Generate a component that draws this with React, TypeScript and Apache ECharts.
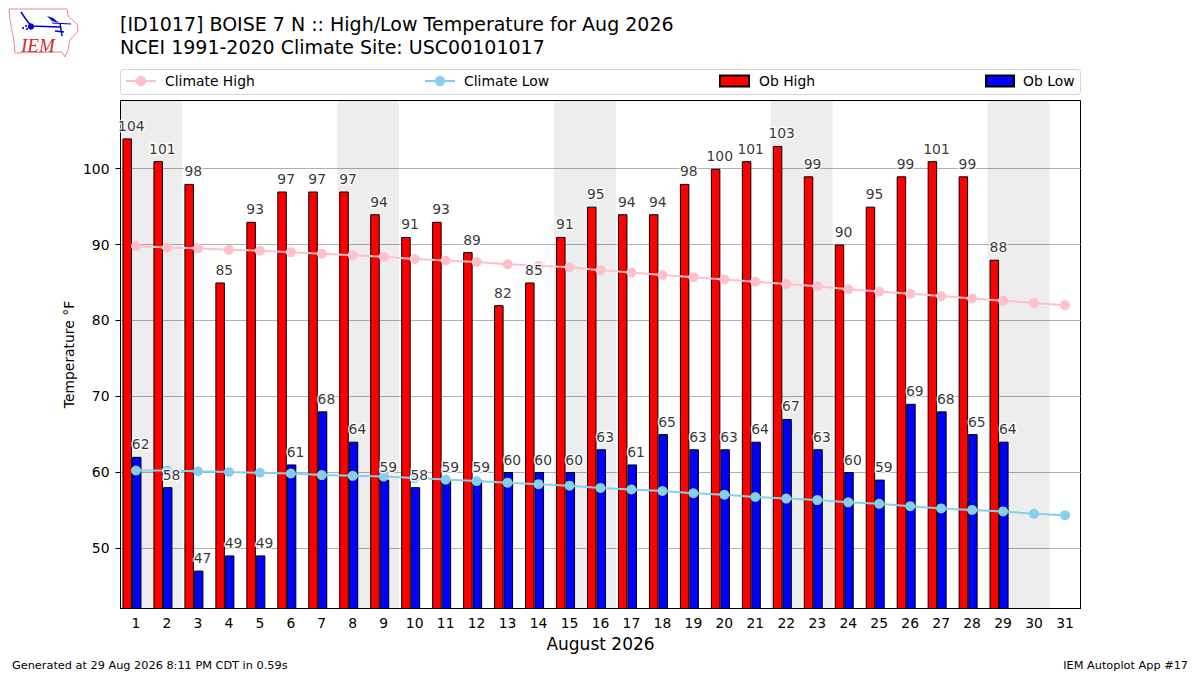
import React, { useEffect, useRef } from "react";
import * as echarts from "echarts";

const days = Array.from({ length: 31 }, (_, i) => String(i + 1));
const obHigh = [104,101,98,85,93,97,97,97,94,91,93,89,82,85,91,95,94,94,98,100,101,103,99,90,95,99,101,99,88,null,null];
const obLow = [62,58,47,49,49,61,68,64,59,58,59,59,60,60,60,63,61,65,63,63,64,67,63,60,59,69,68,65,64,null,null];
const climateHigh = [89.8,89.6,89.5,89.3,89.2,89.0,88.8,88.6,88.4,88.1,87.9,87.7,87.4,87.2,87.0,86.6,86.3,86.0,85.7,85.4,85.1,84.8,84.5,84.1,83.8,83.5,83.2,82.9,82.6,82.3,82.0];
const climateLow = [60.2,60.2,60.1,60.0,59.9,59.8,59.6,59.5,59.4,59.2,59.0,58.8,58.6,58.4,58.2,57.9,57.7,57.5,57.2,57.0,56.7,56.5,56.3,56.0,55.8,55.5,55.2,55.0,54.8,54.5,54.3];
const weekendDays = ["1","2","8","9","15","16","22","23","29","30"];
const yTicks = [50, 60, 70, 80, 90, 100];
const Y_MIN = 42;
const Y_MAX = 109;

const FONT = "DejaVu Sans";
const iowa = [[9,9],[67,9],[68,16],[77,24],[78,31],[70,40],[68,50],[65,57],[62,52],[15,53],[14,41],[10,20]];

export default function App() {
  const ref = useRef<HTMLDivElement>(null);
  useEffect(() => {
    const chart = echarts.init(ref.current!, null, { renderer: "svg" });
    const barBase = { type: "bar", barWidth: 9.5, barGap: 0, z: 3, itemStyle: { borderColor: "#000", borderWidth: 1 } };
    const labelSeries = (name: string, data: any[], dx: number) => ({
      name, type: "scatter", data, symbolSize: 1, z: 6, silent: true,
      itemStyle: { color: "transparent" },
      label: { show: true, position: "top", distance: 5, offset: [dx, 0], color: "#000", fontFamily: FONT, fontSize: 13.9, textBorderColor: "#fff", textBorderWidth: 3 },
    });
    const legendItem = (name: string, left: number, w: number, h: number, gap: number, top: number, icon?: string) => ({
      data: icon ? [{ name, icon }] : [name], left, top, itemWidth: w, itemHeight: h, itemGap: 0, padding: 0,
      textStyle: { fontFamily: FONT, fontSize: 13.9, color: "#000", padding: [0, 0, 0, gap] },
    });
    chart.setOption({
      animation: false,
      backgroundColor: "#fff",
      textStyle: { fontFamily: FONT },
      title: [
        { text: "[ID1017] BOISE 7 N :: High/Low Temperature for Aug 2026\nNCEI 1991-2020 Climate Site: USC00101017", left: 115, top: 7,
          textStyle: { fontFamily: FONT, fontSize: 19, fontWeight: "normal", color: "#000", lineHeight: 23 } },
        { text: "Generated at 29 Aug 2026 8:11 PM CDT in 0.59s", left: 7, top: 655, textStyle: { fontFamily: FONT, fontSize: 11.3, fontWeight: "normal", color: "#000" } },
        { text: "IEM Autoplot App #17", right: 7, top: 655, textStyle: { fontFamily: FONT, fontSize: 11.3, fontWeight: "normal", color: "#000" } },
      ],
      legend: [
        legendItem("Climate High", 125, 30, 13, 4, 74),
        legendItem("Climate Low", 424, 30, 13, 4, 74),
        legendItem("Ob High", 719, 29, 11, 5, 74, "rect"),
        legendItem("Ob Low", 985, 28, 11, 4, 74, "rect"),
      ],
      grid: { left: 120.5, top: 100.5, width: 960, height: 508, show: true, backgroundColor: "#fff", borderColor: "#000", borderWidth: 1 },
      xAxis: [
        { type: "category", data: days, name: "August 2026", nameLocation: "middle", nameGap: 27,
          nameTextStyle: { fontFamily: FONT, fontSize: 17, color: "#000" },
          axisLine: { lineStyle: { color: "#000" } },
          axisTick: { alignWithLabel: true, length: 5, lineStyle: { color: "#000" } },
          axisLabel: { interval: 0, margin: 7, color: "#000", fontFamily: FONT, fontSize: 13.9 }, splitLine: { show: false } },
        { type: "category", data: days, show: false },
      ],
      yAxis: {
        type: "value", min: Y_MIN, max: Y_MAX, name: "Temperature °F", nameLocation: "middle", nameGap: 45, nameMoveOverlap: false,
        nameTextStyle: { fontFamily: FONT, fontSize: 13.9, color: "#000" },
        axisLine: { show: true, lineStyle: { color: "#000" } },
        axisTick: { show: true, length: 5, lineStyle: { color: "#000" }, customValues: yTicks },
        axisLabel: { margin: 11, color: "#000", fontFamily: FONT, fontSize: 13.9, customValues: yTicks },
        splitLine: { show: true, lineStyle: { color: "#b0b0b0", width: 1 } },
      },
      series: [
        { name: "Weekend", type: "bar", xAxisIndex: 1, barWidth: "100%", z: 1, silent: true,
          itemStyle: { color: "rgba(0,0,0,0.07)" },
          data: days.map((d) => (weekendDays.includes(d) ? Y_MAX : null)) },
        { ...barBase, name: "Ob High", data: obHigh, itemStyle: { ...barBase.itemStyle, color: "#ff0000" } },
        { ...barBase, name: "Ob Low", data: obLow, itemStyle: { ...barBase.itemStyle, color: "#0000ff" } },
        { name: "Spacer", type: "bar", barWidth: 8, barGap: 0, data: days.map(() => null) },
        { name: "Climate High", type: "line", data: climateHigh, z: 4, symbol: "circle", symbolSize: 10, showSymbol: true,
          lineStyle: { color: "#ffc0cb", width: 2 }, itemStyle: { color: "#ffc0cb" } },
        { name: "Climate Low", type: "line", data: climateLow, z: 4, symbol: "circle", symbolSize: 10, showSymbol: true,
          lineStyle: { color: "#87ceeb", width: 2 }, itemStyle: { color: "#87ceeb" } },
        labelSeries("High labels", obHigh, -4.65),
        labelSeries("Low labels", obLow, 4.65),
      ],
      graphic: [
        { type: "rect", z: -1, silent: true, shape: { x: 120.5, y: 69.5, width: 960, height: 25, r: 3 }, style: { fill: "#fff", stroke: "#d6d6d6", lineWidth: 1 } },
        { type: "polygon", silent: true, shape: { points: iowa }, style: { fill: "#fff", stroke: "#e88a8a", lineWidth: 1 } },
        { type: "polyline", silent: true, shape: { points: [[21,12],[25,18],[31,26],[60,27]] }, style: { stroke: "#0000cc", lineWidth: 1.5, fill: "none" } },
        { type: "polygon", silent: true, shape: { points: [[47,16],[53,18],[59,23],[52,21]] }, style: { fill: "#0000cc" } },
        { type: "polyline", silent: true, shape: { points: [[52,23],[71,24]] }, style: { stroke: "#0000cc", lineWidth: 1, fill: "none" } },
        { type: "polyline", silent: true, shape: { points: [[60,23],[62,36]] }, style: { stroke: "#0000cc", lineWidth: 1.5, fill: "none" } },
        { type: "polyline", silent: true, shape: { points: [[55,31],[64,32]] }, style: { stroke: "#0000cc", lineWidth: 1.5, fill: "none" } },
        { type: "circle", silent: true, shape: { cx: 31, cy: 26.5, r: 3.2 }, style: { fill: "#0000cc" } },
        { type: "circle", silent: true, shape: { cx: 23, cy: 28, r: 1 }, style: { fill: "#0000cc" } },
        { type: "circle", silent: true, shape: { cx: 26, cy: 26, r: 1 }, style: { fill: "#0000cc" } },
        { type: "circle", silent: true, shape: { cx: 27, cy: 29, r: 1 }, style: { fill: "#0000cc" } },
        { type: "text", silent: true, x: 21, y: 36, style: { text: "IEM", fill: "#d42a2a", fontFamily: "Liberation Serif", fontStyle: "italic", fontSize: 19 } },
      ],
    });
    return () => chart.dispose();
  }, []);
  return <div ref={ref} style={{ position: "absolute", left: 0, top: 0, width: 1200, height: 675 }} />;
}
